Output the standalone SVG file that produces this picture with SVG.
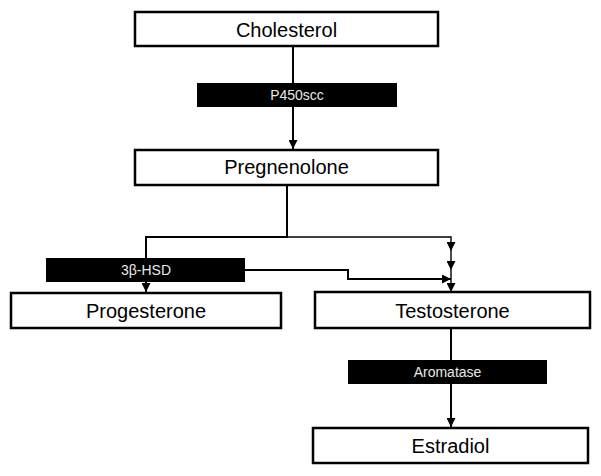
<svg xmlns="http://www.w3.org/2000/svg" width="601" height="476" viewBox="0 0 601 476">
<style>
.box{fill:#fff;stroke:#000;stroke-width:2.5}
.lbl{font-family:"Liberation Sans",Arial,sans-serif;font-size:20px;fill:#000;text-anchor:middle}
.enz{fill:#000}
.etx{font-family:"Liberation Sans",Arial,sans-serif;font-size:14px;fill:#e8e8e8;text-anchor:middle}
.ln{fill:none;stroke:#000;stroke-width:2}
.thin{fill:none;stroke:#000;stroke-width:1.4}
</style>
<defs>
<marker id="ah" markerUnits="userSpaceOnUse" markerWidth="9" markerHeight="9" refX="9" refY="4.5" orient="auto">
<path d="M0,0 L9,4.5 L0,9 z" fill="#000"/>
</marker>
</defs>
<rect width="601" height="476" fill="#fff"/>
<g id="connectors">
<path class="ln" d="M293 46 V149" marker-end="url(#ah)"/>
<path class="ln" d="M287 185 V237 H146 V292" marker-end="url(#ah)"/>
<path class="thin" d="M287 237 H451 V251" marker-end="url(#ah)"/>
<path class="thin" d="M451 251 V270" marker-end="url(#ah)"/>
<path class="thin" d="M451 270 V292" marker-end="url(#ah)"/>
<path class="ln" d="M245 270 H348 V279 H451" marker-end="url(#ah)"/>
<path class="ln" d="M451 328 V427" marker-end="url(#ah)"/>
</g>
<g id="cholesterol">
<rect class="box" x="135" y="12" width="303" height="34"/>
<text class="lbl" x="286.5" y="36.5">Cholesterol</text>
</g>
<g id="p450scc">
<rect class="enz" x="197" y="83" width="200" height="24"/>
<text class="etx" x="297" y="100">P450scc</text>
</g>
<g id="pregnenolone">
<rect class="box" x="135" y="150" width="303" height="35"/>
<text class="lbl" x="286.5" y="174">Pregnenolone</text>
</g>
<g id="hsd3b">
<rect class="enz" x="46" y="258" width="199" height="24"/>
<text class="etx" x="146" y="275">3β-HSD</text>
</g>
<g id="progesterone">
<rect class="box" x="11" y="293" width="270" height="35"/>
<text class="lbl" x="146" y="317.5">Progesterone</text>
</g>
<g id="testosterone">
<rect class="box" x="315" y="292" width="275" height="36"/>
<text class="lbl" x="452.5" y="317.5">Testosterone</text>
</g>
<g id="aromatase">
<rect class="enz" x="348" y="360" width="199" height="24"/>
<text class="etx" x="447.5" y="377">Aromatase</text>
</g>
<g id="estradiol">
<rect class="box" x="313" y="428" width="275" height="35"/>
<text class="lbl" x="450.5" y="452.5">Estradiol</text>
</g>
</svg>
